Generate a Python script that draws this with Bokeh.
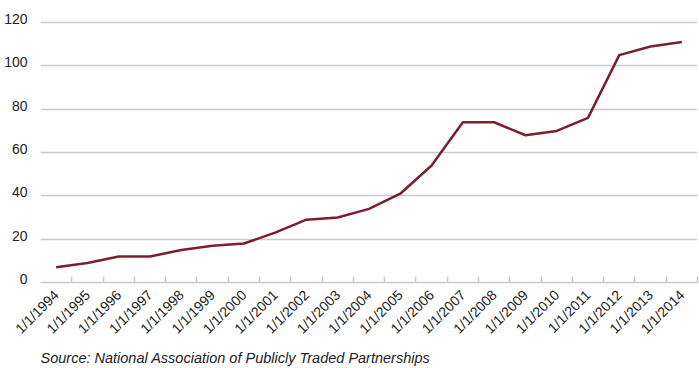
from math import pi
from bokeh.plotting import figure
from bokeh.models import Range1d, FixedTicker, Title, LinearAxis, Grid
from bokeh.embed import file_html
from bokeh.resources import INLINE

years = list(range(1994, 2015))
labels = [f"1/1/{y}" for y in years]
values = [7, 9, 12, 12, 15, 17, 18, 23, 29, 30, 34, 41, 54, 74, 74, 68, 70, 76, 105, 109, 111]
y_ticks = [0, 20, 40, 60, 80, 100, 120]
source = "Source: National Association of Publicly Traded Partnerships"

xs = list(range(len(years)))

p = figure(width=699, height=368, output_backend="svg", toolbar_location=None,
           x_range=Range1d(-0.5, len(years) - 0.5), y_range=Range1d(0, 121.9),
           y_axis_location=None,
           min_border_left=40, min_border_right=2, min_border_top=18, min_border_bottom=0)
p.outline_line_color = None
p.background_fill_color = "white"
p.border_fill_color = "white"
# shifted range so that the y tick labels sit just above their grid lines
p.extra_y_ranges = {"lab": Range1d(-1.6, 120.3)}

p.line(xs, values, line_color="#7b1f2f", line_width=2.5)

grid_col = "#c6cacf"
# x axis
xa = p.xaxis[0]
xa.ticker = FixedTicker(ticks=xs, minor_ticks=[i + 0.5 for i in xs])
xa.major_label_overrides = {i: l for i, l in zip(xs, labels)}
xa.major_label_orientation = pi / 4
xa.major_tick_line_color = None
xa.minor_tick_line_color = grid_col
xa.minor_tick_line_width = 1.5
xa.minor_tick_out = 0
xa.minor_tick_in = 6
xa.axis_line_color = grid_col
xa.axis_line_width = 1.5
xa.major_label_text_font = "Liberation Sans"
xa.major_label_text_font_size = "14px"
xa.major_label_text_color = "#222222"
xa.major_label_standoff = 4

ya = LinearAxis(y_range_name="lab", ticker=FixedTicker(ticks=y_ticks))
ya.major_tick_line_color = None
ya.minor_tick_line_color = None
ya.axis_line_color = None
ya.major_label_text_font = "Liberation Sans"
ya.major_label_text_font_size = "14px"
ya.major_label_text_color = "#222222"
ya.major_label_standoff = 7
p.add_layout(ya, "left")

p.ygrid.visible = False
p.xgrid.visible = False
g = Grid(dimension=1, ticker=FixedTicker(ticks=y_ticks[1:]),
         grid_line_color=grid_col, grid_line_width=1.5)
p.add_layout(g)
# vertical axis line, spanning 0..120 only
vline = Grid(dimension=0, ticker=FixedTicker(ticks=[-0.5]), bounds=(0, 120),
             grid_line_color=grid_col, grid_line_width=1.5)
p.add_layout(vline)

src = Title(text=source,
            align="left", text_font="Liberation Sans", text_font_style="italic",
            text_font_size="14.5px", text_color="#222222", standoff=5,
            vertical_align="bottom")
p.add_layout(src, "below")

open("out.html", "w").write(file_html(p, INLINE))
